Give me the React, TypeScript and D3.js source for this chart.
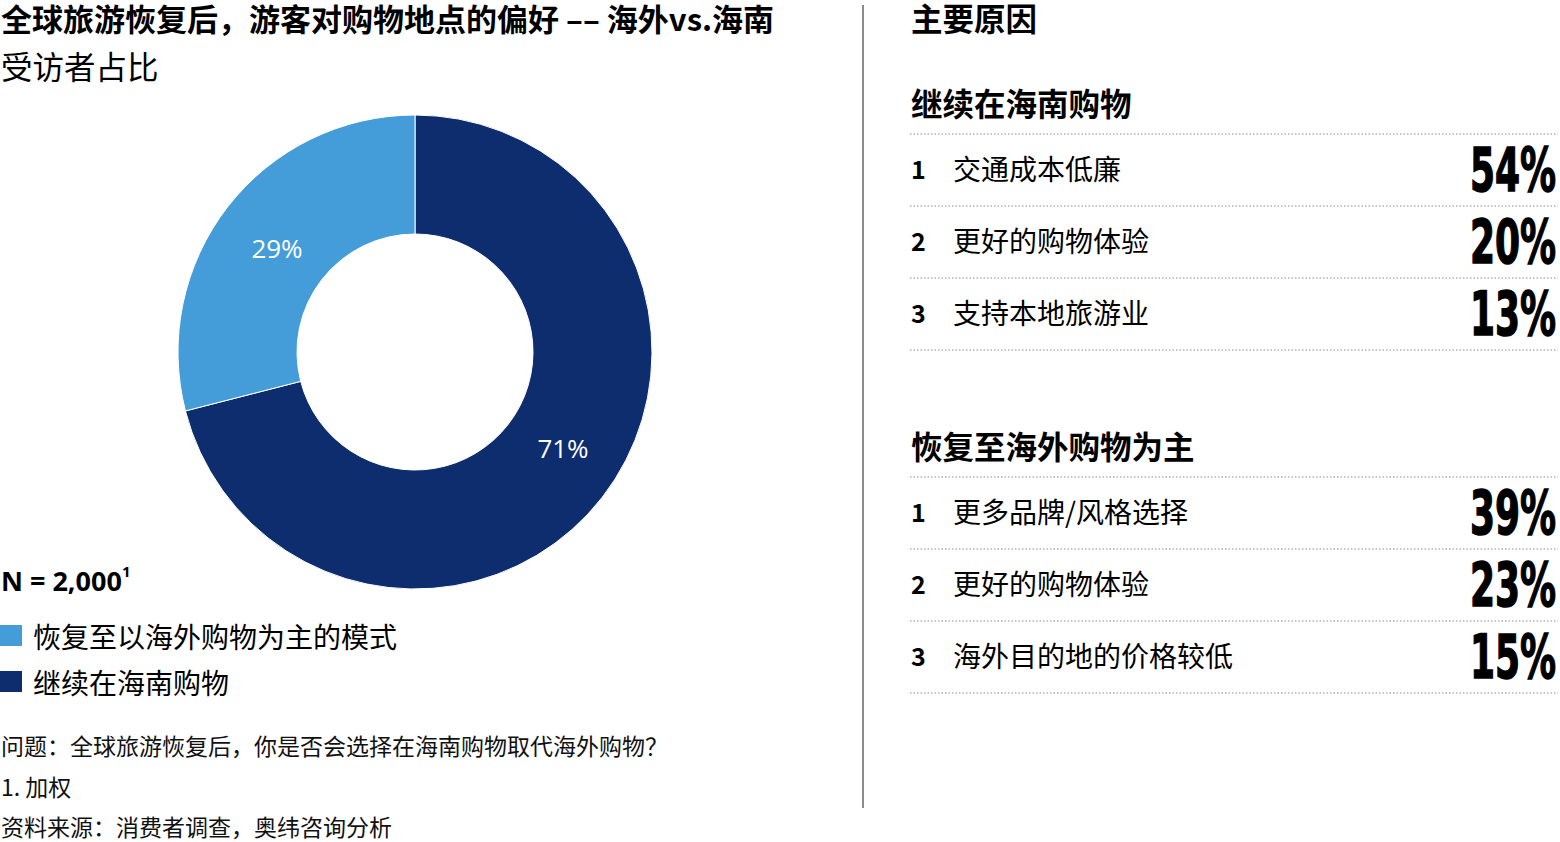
import React from "react";
import * as d3 from "d3";

const donutLabels = ["继续在海南购物", "恢复至以海外购物为主的模式"];
const donutValues = [71, 29];
const donutColors = ["#0D2D6E", "#449DD9"];

const section1Title = "继续在海南购物";
const section1Items = ["交通成本低廉", "更好的购物体验", "支持本地旅游业"];
const section1Values = [54, 20, 13];

const section2Title = "恢复至海外购物为主";
const section2Items = ["更多品牌/风格选择", "更好的购物体验", "海外目的地的价格较低"];
const section2Values = [39, 23, 15];

const legendItems = ["恢复至以海外购物为主的模式", "继续在海南购物"];
const legendColors = ["#449DD9", "#0D2D6E"];

const footnotes = [
  "问题：全球旅游恢复后，你是否会选择在海南购物取代海外购物？",
  "1. 加权",
  "资料来源：消费者调查，奥纬咨询分析",
];

const CJK = "'Noto Sans CJK SC', 'Noto Sans', sans-serif";
const BIG = "'DejaVu Sans', sans-serif";

function Section({ title, items, values, y0 }: { title: string; items: string[]; values: number[]; y0: number }) {
  const rowH = 72;
  const yScale = d3.scaleLinear().domain([0, 1]).range([0, rowH]);
  return (
    <g>
      <text x={911} y={y0} fontFamily={CJK} fontWeight={700} fontSize={31.5} fill="#000" dominantBaseline="central">
        {title}
      </text>
      <line x1={910} x2={1558} y1={y0 + 32} y2={y0 + 32} stroke="#888" strokeWidth={1} strokeDasharray="1.5,2" />
      {items.map((it, i) => {
        const top = y0 + 32 + yScale(i);
        const cy = top + 34;
        return (
          <g key={i}>
            <text x={911} y={cy} fontFamily={CJK} fontWeight={700} fontSize={25} dominantBaseline="central" fill="#000">
              {i + 1}
            </text>
            <text x={953} y={cy} fontFamily={CJK} fontSize={28} dominantBaseline="central" fill="#000">
              {it}
            </text>
            <text
              transform={`translate(1470, ${cy + 23}) scale(0.6, 1)`}
              textAnchor="start"
              fontFamily={BIG}
              fontWeight={700}
              fontSize={60}
              fill="#000"
              stroke="#000"
              strokeWidth={1.5}
            >
              {values[i]}%
            </text>
            <line x1={910} x2={1558} y1={top + rowH} y2={top + rowH} stroke="#888" strokeWidth={1} strokeDasharray="1.5,2" />
          </g>
        );
      })}
    </g>
  );
}

export default function App() {
  const cx = 415, cy = 352, rOut = 237, rIn = 118;
  const pie = d3.pie<number>().sort(null).value((d) => d)(donutValues);
  const arc = d3.arc<d3.PieArcDatum<number>>().innerRadius(rIn).outerRadius(rOut);
  const labelPos = [
    [563, 448],
    [277, 248],
  ];
  return (
    <svg width={1560} height={842} style={{ position: "absolute", left: 0, top: 0, background: "#fff" }}>
      <text x={1} y={31} fontFamily={CJK} fontWeight={700} fontSize={31} fill="#000">
        全球旅游恢复后，游客对购物地点的偏好 –– 海外vs.海南
      </text>
      <text x={1} y={65} fontFamily={CJK} fontSize={31.5} dominantBaseline="central" fill="#000">
        受访者占比
      </text>

      <g transform={`translate(${cx},${cy})`}>
        {pie.map((p, i) => (
          <path key={i} d={arc(p) || ""} fill={donutColors[i]} stroke="#fff" strokeWidth={1} />
        ))}
      </g>
      {pie.map((p, i) => (
        <text
          key={i}
          x={labelPos[i][0]}
          y={labelPos[i][1]}
          textAnchor="middle"
          dominantBaseline="central"
          fontFamily="'Open Sans', sans-serif"
          fontSize={26}
          fill="#fff"
        >
          {p.data}%
        </text>
      ))}

      <text x={1} y={580} fontFamily="'Open Sans', sans-serif" fontWeight={700} fontSize={27} dominantBaseline="central" fill="#000">
        N = 2,000<tspan fontSize={15} dy={-9}>1</tspan>
      </text>
      {legendItems.map((l, i) => (
        <g key={i}>
          <rect x={0} y={625 + i * 46} width={22} height={21} fill={legendColors[i]} />
          <text x={33} y={635.5 + i * 46} fontFamily={CJK} fontSize={28} dominantBaseline="central" fill="#000">
            {l}
          </text>
        </g>
      ))}
      {footnotes.map((f, i) => (
        <text key={i} x={1} y={745 + i * 40.5} fontFamily={CJK} fontSize={23} dominantBaseline="central" fill="#111">
          {f}
        </text>
      ))}

      <line x1={863} x2={863} y1={5} y2={808} stroke="#666" strokeWidth={1.5} />

      <text x={911} y={31} fontFamily={CJK} fontWeight={700} fontSize={31.5} fill="#000">
        主要原因
      </text>
      <Section title={section1Title} items={section1Items} values={section1Values} y0={102} />
      <Section title={section2Title} items={section2Items} values={section2Values} y0={445} />
    </svg>
  );
}
